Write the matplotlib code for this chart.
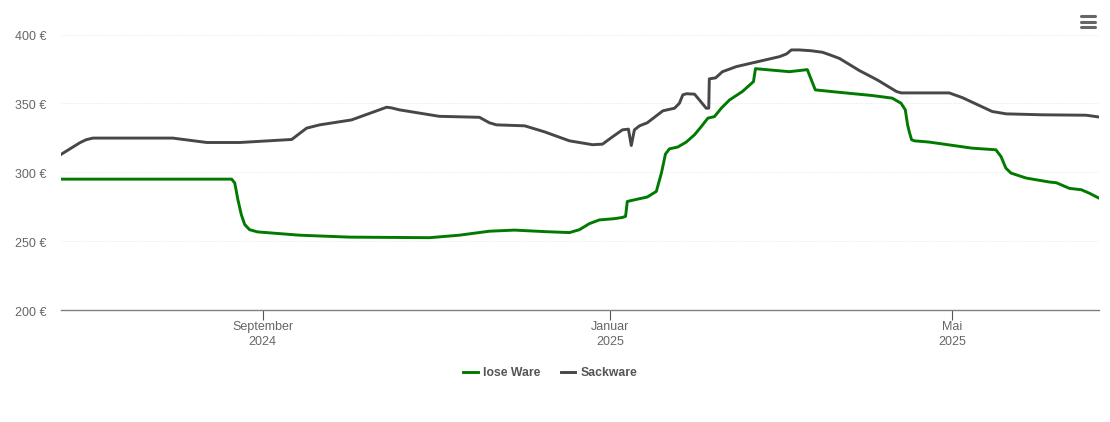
import numpy as np
import pandas as pd
import matplotlib
matplotlib.use('Agg')
import matplotlib.pyplot as plt
from matplotlib.lines import Line2D
from matplotlib.transforms import ScaledTranslation

plt.rcParams['font.family'] = ['Liberation Sans', 'DejaVu Sans']

# days counted from 1 September 2024
start = pd.Timestamp('2024-09-01')

lose_tage = [-71, -10.9, -9.8, -8.7, -7.5, -6.3, -4.6, -1.8, 13, 30.5, 58.6, 69, 79.6, 88.4, 99,
             107.7, 111.2, 114.7, 118.2, 123.5, 126.3, 127.4, 128, 132.3, 135, 138.2, 140, 141.4, 142.8,
             145.7, 148.7, 151.6, 154, 156.3, 158.6, 161, 163.9, 168.4, 172.3, 173, 184.9, 191.2, 194, 202.5,
             214, 221, 224.1, 225.6, 226.4, 227.1, 227.8, 228.8, 234, 249, 257.4, 259.2, 260.9, 262.7, 268, 276.2,
             278.6, 283.2, 287.4, 290.2, 293.3]
lose_preis = [295, 295, 292.2, 280.1, 269.2, 262, 258.3, 256.7, 254.3, 252.9, 252.5, 254.3, 257.2, 258, 256.9,
              256.2, 258.3, 262.7, 265.4, 266.3, 267.2, 268, 278.8, 280.8, 282, 286.1, 299.6, 313.2, 317,
              318.3, 321.9, 327.2, 333.2, 339.3, 340.4, 346.5, 352.5, 358.6, 365.8, 375.2, 373, 374.5, 359.8, 358,
              355.7, 353.8, 350.1, 345.3, 334.4, 328.6, 323.6, 322.8, 321.9, 317.5, 316.3, 311.4, 303, 299.4, 295.8, 292.9,
              292.4, 288.3, 287.3, 284.8, 281.5]

sack_tage = [-71, -64.2, -62, -59.6, -57.2, -31.6, -25.6, -19.6, -8, 10.2, 15.4, 20, 31.2, 43.5, 45.3, 48, 62, 76.1,
             79.6, 82.1, 92, 99, 107.7, 115.8, 119.3, 122.8, 126.3, 128.4, 129.4, 130.5, 132.3, 135,
             140.5, 144.6, 146.3, 147.5, 148.8, 151.6, 153.3, 155.7, 156.6, 156.8, 159, 161.4, 166.3, 181.4, 183.9, 185.6,
             188.4, 192.6, 196.5, 199.3, 202.5, 209.5, 215.8, 222.5, 224.2, 241, 245.6, 256.1, 261, 273.7, 289.1, 293.3]
sack_preis = [312.7, 321.4, 323.6, 324.8, 324.8, 324.8, 323.2, 321.6, 321.6, 323.8, 332, 334.4, 338, 347.2, 346.7, 345.3, 340.6, 339.9,
              335.9, 334.4, 333.7, 329.3, 322.8, 320, 320.4, 325.7, 330.8, 331.3, 319.4, 330.8, 333.7, 335.9,
              344.6, 346.5, 350.1, 356.2, 357, 356.7, 352.5, 346.5, 346.5, 367.8, 368.5, 373, 376.7, 383.9, 385.9, 388.8,
              388.8, 388.2, 387.1, 385.1, 382.6, 373.8, 367, 358.6, 357.6, 357.6, 354.2, 344.1, 342.4, 341.7, 341.4, 340.2]

y_ticks = [200, 250, 300, 350, 400]
x_ticks = ['2024-09-01', '2025-01-01', '2025-05-01']
x_labels = ['September\n2024', 'Januar\n2025', 'Mai\n2025']

lose_x = start + pd.to_timedelta(lose_tage, unit='D')
sack_x = start + pd.to_timedelta(sack_tage, unit='D')

W, H = 1110, 422
fig = plt.figure(figsize=(W / 100, H / 100), dpi=100)
ax = fig.add_axes([61 / W, 1 - 310 / H, 1038 / W, 275.5 / H])

ax.plot(lose_x, lose_preis, color='#007a00', lw=2.1, solid_joinstyle='round')
ax.plot(sack_x, sack_preis, color='#474747', lw=2.1, solid_joinstyle='round')

ax.set_ylim(200, 400)
ax.set_xlim(start + pd.Timedelta(days=-70.8), start + pd.Timedelta(days=293.6))

for s in ['top', 'left', 'right']:
    ax.spines[s].set_visible(False)
ax.spines['bottom'].set_color('#808080')
ax.spines['bottom'].set_linewidth(1)

ax.set_yticks(y_ticks)
ax.set_yticklabels([f'{v} €' for v in y_ticks])
ax.grid(axis='y', color='#e6e6e6', lw=0.7, ls=(0, (1, 1.5)))
ax.set_axisbelow(True)
ax.tick_params(axis='y', length=0, pad=10.5, labelsize=9, labelcolor='#666666')
# y labels sit one pixel lower
for lab in ax.get_yticklabels():
    lab.set_transform(lab.get_transform() + ScaledTranslation(0, -1 / 100, fig.dpi_scale_trans))
ax.set_xticks(pd.to_datetime(x_ticks))
ax.set_xticklabels(x_labels, linespacing=1.42)
ax.tick_params(axis='x', length=7.2, width=0.8, color='#555555', pad=0.5, labelsize=9, labelcolor='#666666')

# legend
handles = [Line2D([0], [0], color='#007a00', lw=2.1), Line2D([0], [0], color='#474747', lw=2.1)]
fig.legend(handles, ['lose Ware', 'Sackware'], ncol=2, frameon=False, loc='center',
           bbox_to_anchor=(550 / W, 1 - 373 / H), prop={'size': 8.8, 'weight': 'bold'},
           labelcolor='#555555', handlelength=1.2, handletextpad=0.4, columnspacing=1.7)

# menu icon top right
for y in [15.5, 21.5, 27]:
    fig.add_artist(Line2D([1081 / W, 1095 / W], [1 - y / H, 1 - y / H], color='#666666', lw=2.2,
                          solid_capstyle='round'))

fig.savefig('out.png', dpi=100)
